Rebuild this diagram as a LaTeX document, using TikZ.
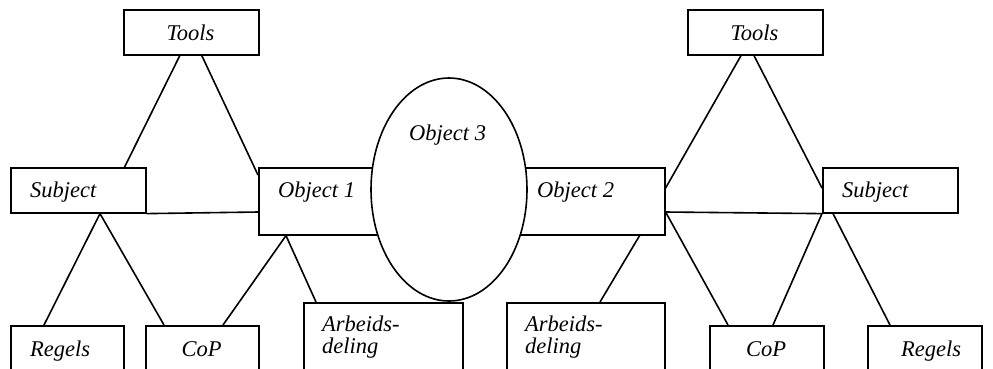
\documentclass[tikz,border=0pt]{standalone}
\usepackage{fontspec}
\setmainfont{Liberation Serif}
\usetikzlibrary{shapes.geometric}
\begin{document}
\begin{tikzpicture}[x=1pt,y=-1pt,
  box/.style={draw,line width=1.6pt,rectangle,inner sep=0,anchor=north west},
  lbl/.style={inner sep=0,anchor=base west,font=\fontsize{22.5}{22}\selectfont\itshape,align=left},
  clbl/.style={inner sep=0,anchor=base,font=\fontsize{22.5}{22}\selectfont\itshape},
  conn/.style={line width=1.6pt}]
\clip (0,0) rectangle (993,368);
\fill[white] (0,0) rectangle (993,368);
% boxes
\node[box,minimum width=135,minimum height=45] (tl) at (123,9) {};
\node[box,minimum width=135,minimum height=45] (sl) at (10,167) {};
\node[box,minimum width=162,minimum height=67] (o1) at (258,167) {};
\node[box,minimum width=184,minimum height=67] (o2) at (480,167) {};
\node[box,minimum width=135,minimum height=45] (tr) at (687,9) {};
\node[box,minimum width=135,minimum height=45] (sr) at (822,167) {};
\node[box,minimum width=113,minimum height=70] (rl) at (10,325) {};
\node[box,minimum width=113,minimum height=70] (cl) at (145,325) {};
\node[box,minimum width=159,minimum height=90] (al) at (303,302) {};
\node[box,minimum width=158,minimum height=90] (ar) at (506,302) {};
\node[box,minimum width=114,minimum height=70] (cr) at (709,325) {};
\node[box,minimum width=114,minimum height=70] (rr) at (867,325) {};
% ellipse
\node[draw,ellipse,fill=white,line width=1.6pt,inner sep=0,minimum width=156,minimum height=223] (e) at (449,189.5) {};
% connectors
\draw[conn] ([xshift=-11.5pt]tl.south) -- ([xshift=-22pt]sl.north east);
\draw[conn] ([xshift=10.5pt]tl.south) -- ([yshift=-8pt]o1.north west);
\draw[conn] (sl.south east) -- ([yshift=-45pt]o1.north west);
\draw[conn] ([xshift=90pt]sl.south west) -- ([xshift=34pt]rl.north west);
\draw[conn] ([xshift=90pt]sl.south west) -- ([xshift=19pt]cl.north west);
\draw[conn] ([xshift=28pt]o1.south west) -- ([xshift=78pt]cl.north west);
\draw[conn] ([xshift=28pt]o1.south west) -- ([xshift=13pt]al.north west);
\draw[conn] ([xshift=54pt]tr.south west) -- ([yshift=-21pt]o2.north east);
\draw[conn] ([xshift=67pt]tr.south west) -- ([yshift=-21pt]sr.north west);
\draw[conn] ([yshift=-45pt]o2.north east) -- (sr.south west);
\draw[conn] ([yshift=-45pt]o2.north east) -- ([xshift=19pt]cr.north west);
\draw[conn] ([xshift=-26pt]o2.south east) -- ([xshift=94pt]ar.north west);
\draw[conn] (sr.south west) -- ([xshift=64pt]cr.north west);
\draw[conn] ([xshift=11pt]sr.south west) -- ([xshift=23pt]rr.north west);
% texts
\node[clbl] (ttl) at (190.5,40) {Tools};
\node[clbl] (ttr) at (754.5,40) {Tools};
\node[lbl] (tsl) at (30,197) {Subject};
\node[lbl] (to1) at (278,197) {Object 1};
\node[lbl] (te) at (409,140) {Object 3};
\node[lbl] (to2) at (537,197) {Object 2};
\node[lbl] (tsr) at (842,197) {Subject};
\node[lbl] (trl) at (30,356) {Regels};
\node[clbl] (tcl) at (201.5,356) {CoP};
\node[lbl] (tal) at (322,353) {Arbeids-\\deling};
\node[lbl] (tar) at (525,353) {Arbeids-\\deling};
\node[clbl] (tcr) at (766,356) {CoP};
\node[lbl] (trr) at (901,356) {Regels};
\end{tikzpicture}
\end{document}
